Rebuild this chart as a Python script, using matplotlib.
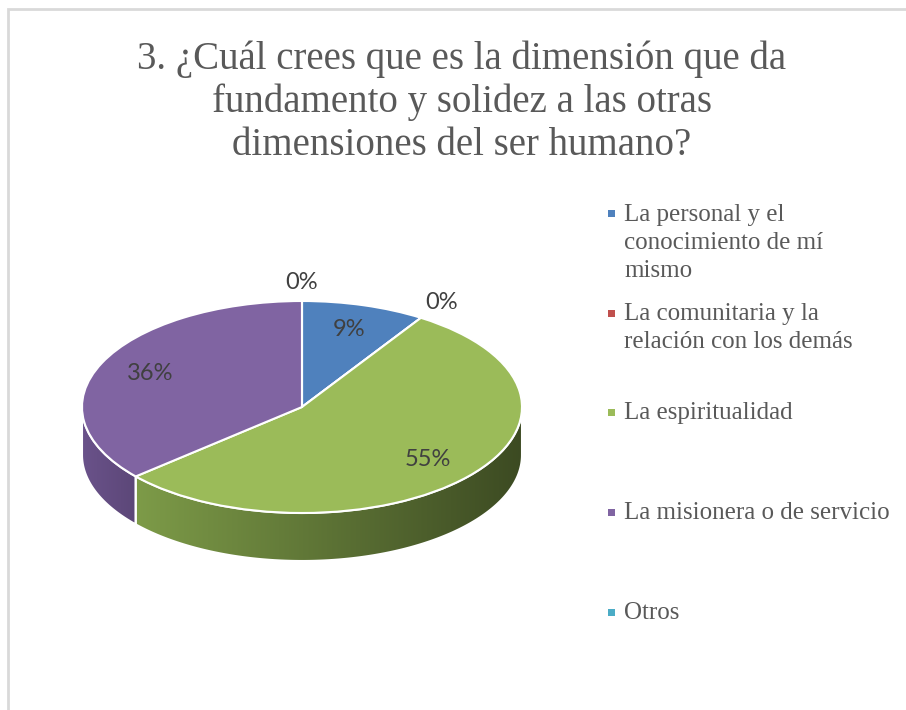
import numpy as np
import matplotlib
matplotlib.use('Agg')
import matplotlib.pyplot as plt
from matplotlib.patches import Polygon, Rectangle

# datos de la encuesta (conteos)
etiquetas = ['La personal y el\nconocimiento de mí\nmismo',
             'La comunitaria y la\nrelación con los demás',
             'La espiritualidad',
             'La misionera o de servicio',
             'Otros']
conteos = [1, 0, 6, 4, 0]
porcentajes = ['9%', '0%', '55%', '36%', '0%']
colores = ['#4f81bd', '#c0504d', '#9bbb59', '#8064a2', '#4bacc6']
colores_lado = [('#3f6797', '#3f6797'), ('#9a403e', '#9a403e'),
                ('#7d9b48', '#3c4a22'), ('#6a528a', '#5c4778'),
                ('#3c8a9e', '#3c8a9e')]

titulo = '3. ¿Cuál crees que es la dimensión que da\nfundamento y solidez a las otras\ndimensiones del ser humano?'
gris = '#595959'
W, H = 906, 710

fig = plt.figure(figsize=(W / 100, H / 100), dpi=100)
fig.patch.set_facecolor('white')

# borde del area del grafico
fig.patches.append(Rectangle((8 / W, -0.1), 1.2, (H - 9) / H + 0.1,
                             transform=fig.transFigure, fill=False,
                             edgecolor='#d9d9d9', linewidth=2))

fig.text(462 / W, 1 - 102 / H, titulo, ha='center', va='center',
         fontsize=28, color=gris, family='Liberation Serif', linespacing=1.2)

# ejes de la tarta: x en [-1, 1] -> 82..522 px, 1 unidad y = 107 px
rx, ry, prof = 220.0, 106.0, 48.0
cy_px = 407.0
top_px = cy_px - ry
ymin, ymax = -1.7, 1.0
ax = fig.add_axes([82 / W, 1 - (top_px + (ymax - ymin) * ry) / H,
                   440 / W, (ymax - ymin) * ry / H])
d = prof / ry

# lados (solo la mitad frontal)
total = sum(conteos)
fracs = np.array(conteos) / total
inicio = 90.0
for i, f in enumerate(fracs):
    a2 = inicio
    a1 = inicio - 360 * f
    inicio = a1
    if f == 0:
        continue
    b1, b2 = a1, a2
    while b1 < -180:
        b1 += 360
        b2 += 360
    segs = []
    for off in (-360, 0, 360):
        s1, s2 = max(b1 + off, 180), min(b2 + off, 360)
        if s2 > s1:
            segs.append((s1, s2))
    for s1, s2 in segs:
        t = np.radians(np.linspace(s1, s2, 200))
        xs = np.cos(t)
        ys = np.sin(t)
        pts = np.vstack([np.column_stack([xs, ys]),
                         np.column_stack([xs[::-1], ys[::-1] - d])])
        poly = Polygon(pts, closed=True, facecolor='none', edgecolor='white',
                       linewidth=1.5, zorder=2)
        ax.add_patch(poly)
        c1 = np.array(matplotlib.colors.to_rgb(colores_lado[i][0]))
        c2 = np.array(matplotlib.colors.to_rgb(colores_lado[i][1]))
        g = np.linspace(0, 1, 300)[:, None]
        grad = (c1 * (1 - g) + c2 * g)[None, :, :]
        im = ax.imshow(grad, extent=(xs.min(), xs.max(), ys.min() - d, ys.max()),
                       aspect='auto', zorder=1, interpolation='bilinear')
        im.set_clip_path(poly)

# cara superior
cunas, _ = ax.pie(conteos, colors=colores, startangle=90, counterclock=False,
                  radius=1.0, wedgeprops=dict(edgecolor='white', linewidth=1.5))
for w in cunas:
    w.set_zorder(3)

# etiquetas de porcentaje
inicio = 90.0
for f, txt in zip(fracs, porcentajes):
    medio = np.radians(inicio - 180 * f)
    inicio -= 360 * f
    r = 0.76 if f > 0 else 1.17
    ax.text(r * np.cos(medio), r * np.sin(medio), txt, ha='center',
            va='center', fontsize=17, color='#404040', family='Lato',
            zorder=5)

ax.set_aspect('auto')
ax.set_xlim(-1, 1)
ax.set_ylim(ymin, ymax)
ax.axis('off')

# leyenda
ys_leyenda = [214, 313, 412, 512, 612]
for lab, col, yl in zip(etiquetas, colores, ys_leyenda):
    fig.patches.append(Rectangle((608 / W, 1 - (yl + 3.5) / H), 7 / W, 7 / H,
                                 transform=fig.transFigure, facecolor=col,
                                 edgecolor='none'))
    fig.text(624 / W, 1 - (yl - 10) / H, lab, ha='left', va='top',
             fontsize=18, color=gris, family='Liberation Serif',
             linespacing=1.35)

fig.savefig('out.png', dpi=100)
